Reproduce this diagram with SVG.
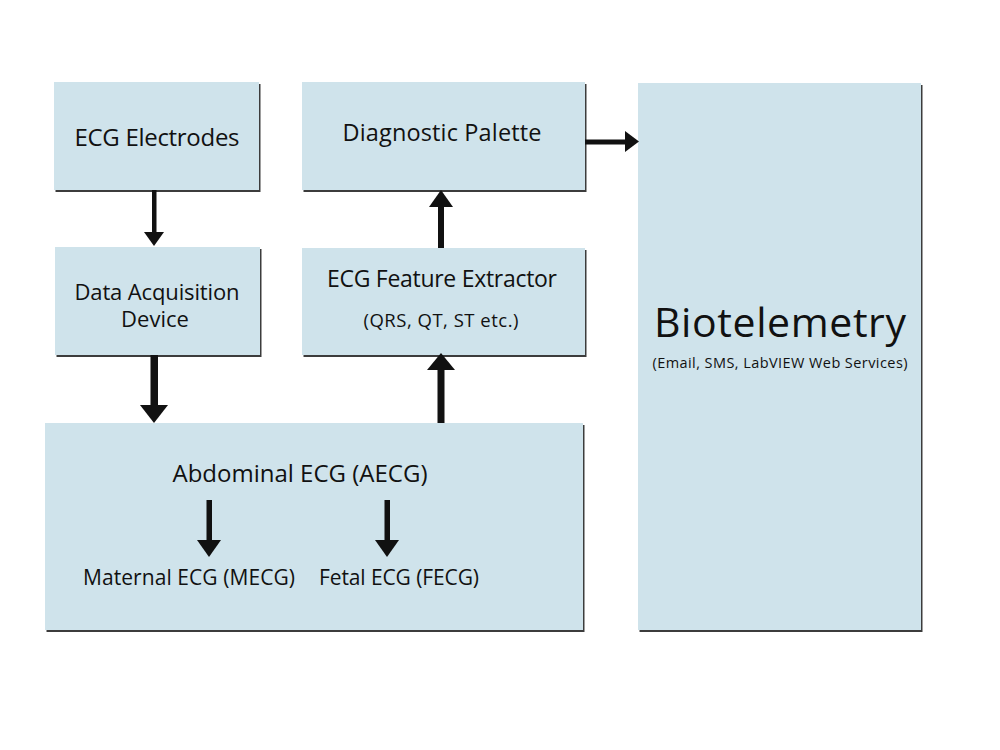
<svg xmlns="http://www.w3.org/2000/svg" width="1000" height="750" viewBox="0 0 1000 750">
  <style>
    .shadow { fill: #3c3c3c; }
    .box { fill: #cfe3eb; }
    .t { font-family: "Open Sans", "Liberation Sans", sans-serif; fill: #111; text-anchor: middle; }
    .conn { fill: #111; stroke: none; }
  </style>
  <rect width="1000" height="750" fill="#ffffff"/>

  <g id="node-ecg-electrodes">
    <rect class="shadow" x="55.5" y="84" width="205" height="108"/>
    <rect class="box" x="54" y="82" width="205" height="108"/>
    <text class="t" x="157" y="146" font-size="24" textLength="165">ECG Electrodes</text>
  </g>

  <g id="node-data-acquisition">
    <rect class="shadow" x="56.5" y="249" width="205" height="108"/>
    <rect class="box" x="55" y="247" width="205" height="108"/>
    <text class="t" x="157" y="300" font-size="22" textLength="165">Data Acquisition</text>
    <text class="t" x="155" y="327" font-size="22">Device</text>
  </g>

  <g id="node-diagnostic-palette">
    <rect class="shadow" x="303.5" y="84" width="283" height="108"/>
    <rect class="box" x="302" y="82" width="283" height="108"/>
    <text class="t" x="442" y="141" font-size="23.5" textLength="199">Diagnostic Palette</text>
  </g>

  <g id="node-feature-extractor">
    <rect class="shadow" x="303.5" y="250" width="283" height="107"/>
    <rect class="box" x="302" y="248" width="283" height="107"/>
    <text class="t" x="442" y="287" font-size="23" textLength="230">ECG Feature Extractor</text>
    <text class="t" x="441" y="327" font-size="18.5" textLength="155">(QRS, QT, ST etc.)</text>
  </g>

  <g id="node-abdominal-ecg">
    <rect class="shadow" x="46.5" y="425" width="538" height="207"/>
    <rect class="box" x="45" y="423" width="538" height="207"/>
    <text class="t" x="300" y="482" font-size="24" textLength="255">Abdominal ECG (AECG)</text>
    <text class="t" x="189" y="585" font-size="21" textLength="212">Maternal ECG (MECG)</text>
    <text class="t" x="399" y="585" font-size="21" textLength="160">Fetal ECG (FECG)</text>
  </g>

  <g id="node-biotelemetry">
    <rect class="shadow" x="639.5" y="85" width="283" height="547"/>
    <rect class="box" x="638" y="83" width="283" height="547"/>
    <text class="t" x="780" y="337" font-size="41" textLength="252">Biotelemetry</text>
    <text class="t" x="780" y="368" font-size="14.5" textLength="255">(Email, SMS, LabVIEW Web Services)</text>
  </g>

  <g id="connectors">
    <!-- Electrodes -> DAQ -->
    <rect class="conn" x="152" y="190" width="4.5" height="44"/>
    <polygon class="conn" points="144,232 164,232 154,246"/>
    <!-- DAQ -> AECG -->
    <rect class="conn" x="150.5" y="355" width="7.5" height="52"/>
    <polygon class="conn" points="140,405 168,405 154,423"/>
    <!-- AECG -> Feature Extractor -->
    <rect class="conn" x="437.5" y="368" width="7" height="55"/>
    <polygon class="conn" points="427,370 455,370 441,353"/>
    <!-- Feature Extractor -> Diagnostic Palette -->
    <rect class="conn" x="438" y="205" width="6" height="43"/>
    <polygon class="conn" points="429,207 453,207 441,190"/>
    <!-- Diagnostic Palette -> Biotelemetry -->
    <rect class="conn" x="585" y="139.5" width="42" height="5"/>
    <polygon class="conn" points="625,131 625,152 639,141.5"/>
    <!-- AECG -> MECG -->
    <rect class="conn" x="206.5" y="500" width="5.5" height="42"/>
    <polygon class="conn" points="197,540 221,540 209,557"/>
    <!-- AECG -> FECG -->
    <rect class="conn" x="384.5" y="500" width="5.5" height="42"/>
    <polygon class="conn" points="375,540 399,540 387,557"/>
  </g>
</svg>
